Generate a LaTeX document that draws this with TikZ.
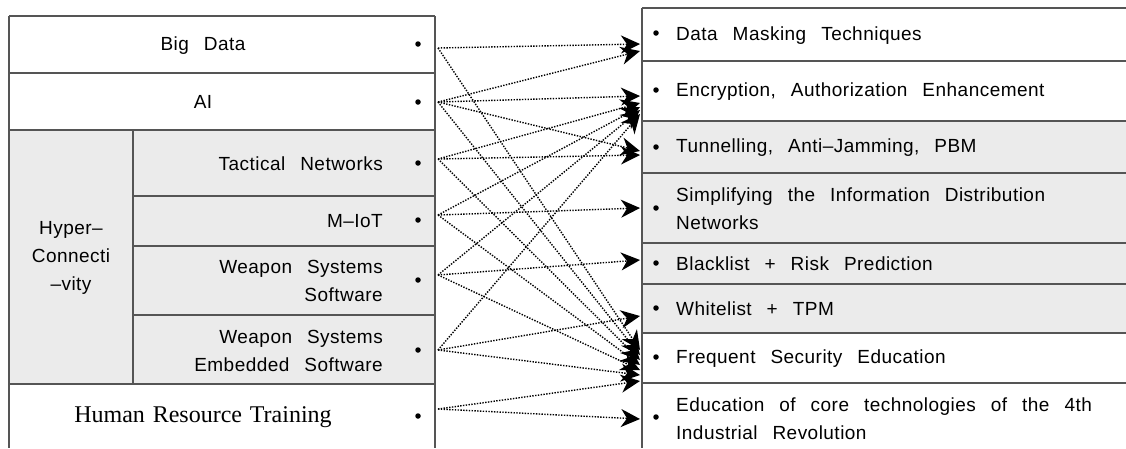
\documentclass[tikz,border=0pt]{standalone}
\usepackage{fontspec}
\usetikzlibrary{arrows.meta}
\newfontfamily\kfont[LetterSpace=2.5,WordSpace=2.6]{Liberation Sans}
\newfontfamily\hrfont[WordSpace=1.3]{Liberation Serif}
\definecolor{gridc}{HTML}{555555}
\definecolor{cellg}{HTML}{EBEBEB}
\tikzset{
  gridline/.style={draw=gridc, line width=1.4pt},
  lbl/.style={font=\kfont\fontsize{19}{28}\selectfont, inner sep=0pt, text=black},
  lblr/.style={lbl, anchor=east, align=right},
  lbll/.style={lbl, anchor=west, align=left},
  bul/.style={circle, fill=black, inner sep=0pt, minimum size=5.5pt},
  conn/.style={draw=black, line width=1.4pt, dash pattern=on 1.4pt off 1.4pt,
    -{Stealth[length=19pt,width=18pt,inset=6pt]}}
}
\begin{document}
\begin{tikzpicture}[x=1pt,y=-1pt]
\useasboundingbox (0,0) rectangle (1126,448);
% ---------- left table ----------
\fill[cellg] (9,130) rectangle (435,384);
\draw[gridline] (9,16) -- (435,16);
\draw[gridline] (9,73) -- (435,73);
\draw[gridline] (9,130) -- (435,130);
\draw[gridline] (133,196) -- (435,196);
\draw[gridline] (133,246) -- (435,246);
\draw[gridline] (133,315) -- (435,315);
\draw[gridline] (9,384) -- (435,384);
\draw[gridline] (9,16) -- (9,448);
\draw[gridline] (435,16) -- (435,448);
\draw[gridline] (133,130) -- (133,384);
% ---------- right table ----------
\fill[cellg] (642,121) rectangle (1126,333);
\foreach \yy in {8,61,121,173,243,284,333,383}
  \draw[gridline] (642,\yy) -- (1126,\yy);
\draw[gridline] (642,8) -- (642,448);
% ---------- left labels ----------
\node[lbl] (bd) at (203,46) {Big Data};
\node[lbl] (ai) at (203,102) {AI};
\node[lbl, align=center] (hc) at (71,258) {Hyper–\\Connecti\\–vity};
\node[lblr] (tn) at (383,164) {Tactical Networks};
\node[lblr] (mi) at (383,221) {M–IoT};
\node[lblr] (ws) at (383,281) {Weapon Systems\\Software};
\node[lblr] (we) at (383,351) {Weapon Systems\\Embedded Software};
\node[font=\hrfont\fontsize{24}{28}\selectfont, inner sep=0pt] (hr) at (203,417) {Human Resource Training};
% left bullets
\node[bul] (dbd) at (418,44) {};
\node[bul] (dai) at (418,102) {};
\node[bul] (dtn) at (418,163) {};
\node[bul] (dmi) at (418,220) {};
\node[bul] (dws) at (418,280) {};
\node[bul] (dwe) at (418,350) {};
\node[bul] (dhr) at (418,416) {};
% ---------- right labels ----------
\node[lbll] (dm) at (676,36) {Data Masking Techniques};
\node[lbll] (en) at (676,92) {Encryption, Authorization Enhancement};
\node[lbll] (tu) at (676,148) {Tunnelling, Anti–Jamming, PBM};
\node[lbll] (si) at (676,209) {Simplifying the Information Distribution\\Networks};
\node[lbll] (bl) at (676,264) {Blacklist + Risk Prediction};
\node[lbll] (wl) at (676,309) {Whitelist + TPM};
\node[lbll] (fs) at (676,359) {Frequent Security Education};
\node[lbll] (ed) at (676,419) {Education of core technologies of the 4th\\Industrial Revolution};
% right bullets
\node[bul] (rdm) at (656,33) {};
\node[bul] (ren) at (656,90) {};
\node[bul] (rtu) at (656,147) {};
\node[bul] (rsi) at (656,208) {};
\node[bul] (rbl) at (656,263) {};
\node[bul] (rwl) at (656,308) {};
\node[bul] (rfs) at (656,357) {};
\node[bul] (red) at (656,417) {};
% ---------- connector ends ----------
\coordinate (sbd) at (438,48);
\coordinate (sai) at (438,102);
\coordinate (stn) at (438,159);
\coordinate (smi) at (438,215);
\coordinate (sws) at (438,275);
\coordinate (swe) at (438,350);
\coordinate (shr) at (438,409);
\coordinate (tdm1) at (640,44);
\coordinate (tdm2) at (640,51);
\coordinate (ten1) at (640,96);
\coordinate (ten2) at (640,103);
\coordinate (ten3) at (640,107);
\coordinate (ten4) at (640,110);
\coordinate (ten5) at (640,114);
\coordinate (ttu1) at (640,151);
\coordinate (ttu2) at (640,155);
\coordinate (tsi) at (640,208);
\coordinate (tbl) at (640,260);
\coordinate (twl) at (640,316);
\coordinate (tfs1) at (640,350);
\coordinate (tfs2) at (640,355);
\coordinate (tfs3) at (640,360);
\coordinate (tfs4) at (640,365);
\coordinate (tfs5) at (640,370);
\coordinate (tfs6) at (640,375);
\coordinate (tfs7) at (640,381);
\coordinate (ted) at (640,419);
% ---------- connectors ----------
\draw[conn] (sbd) -- (tdm1);
\draw[conn] (sbd) -- (tfs1);
\draw[conn] (sai) -- (tdm2);
\draw[conn] (sai) -- (ten1);
\draw[conn] (sai) -- (ttu1);
\draw[conn] (sai) -- (tfs2);
\draw[conn] (stn) -- (ten2);
\draw[conn] (stn) -- (ttu2);
\draw[conn] (stn) -- (tfs3);
\draw[conn] (smi) -- (ten3);
\draw[conn] (smi) -- (tsi);
\draw[conn] (smi) -- (tfs4);
\draw[conn] (sws) -- (ten4);
\draw[conn] (sws) -- (tbl);
\draw[conn] (sws) -- (tfs5);
\draw[conn] (swe) -- (ten5);
\draw[conn] (swe) -- (twl);
\draw[conn] (swe) -- (tfs6);
\draw[conn] (shr) -- (tfs7);
\draw[conn] (shr) -- (ted);
\end{tikzpicture}
\end{document}
